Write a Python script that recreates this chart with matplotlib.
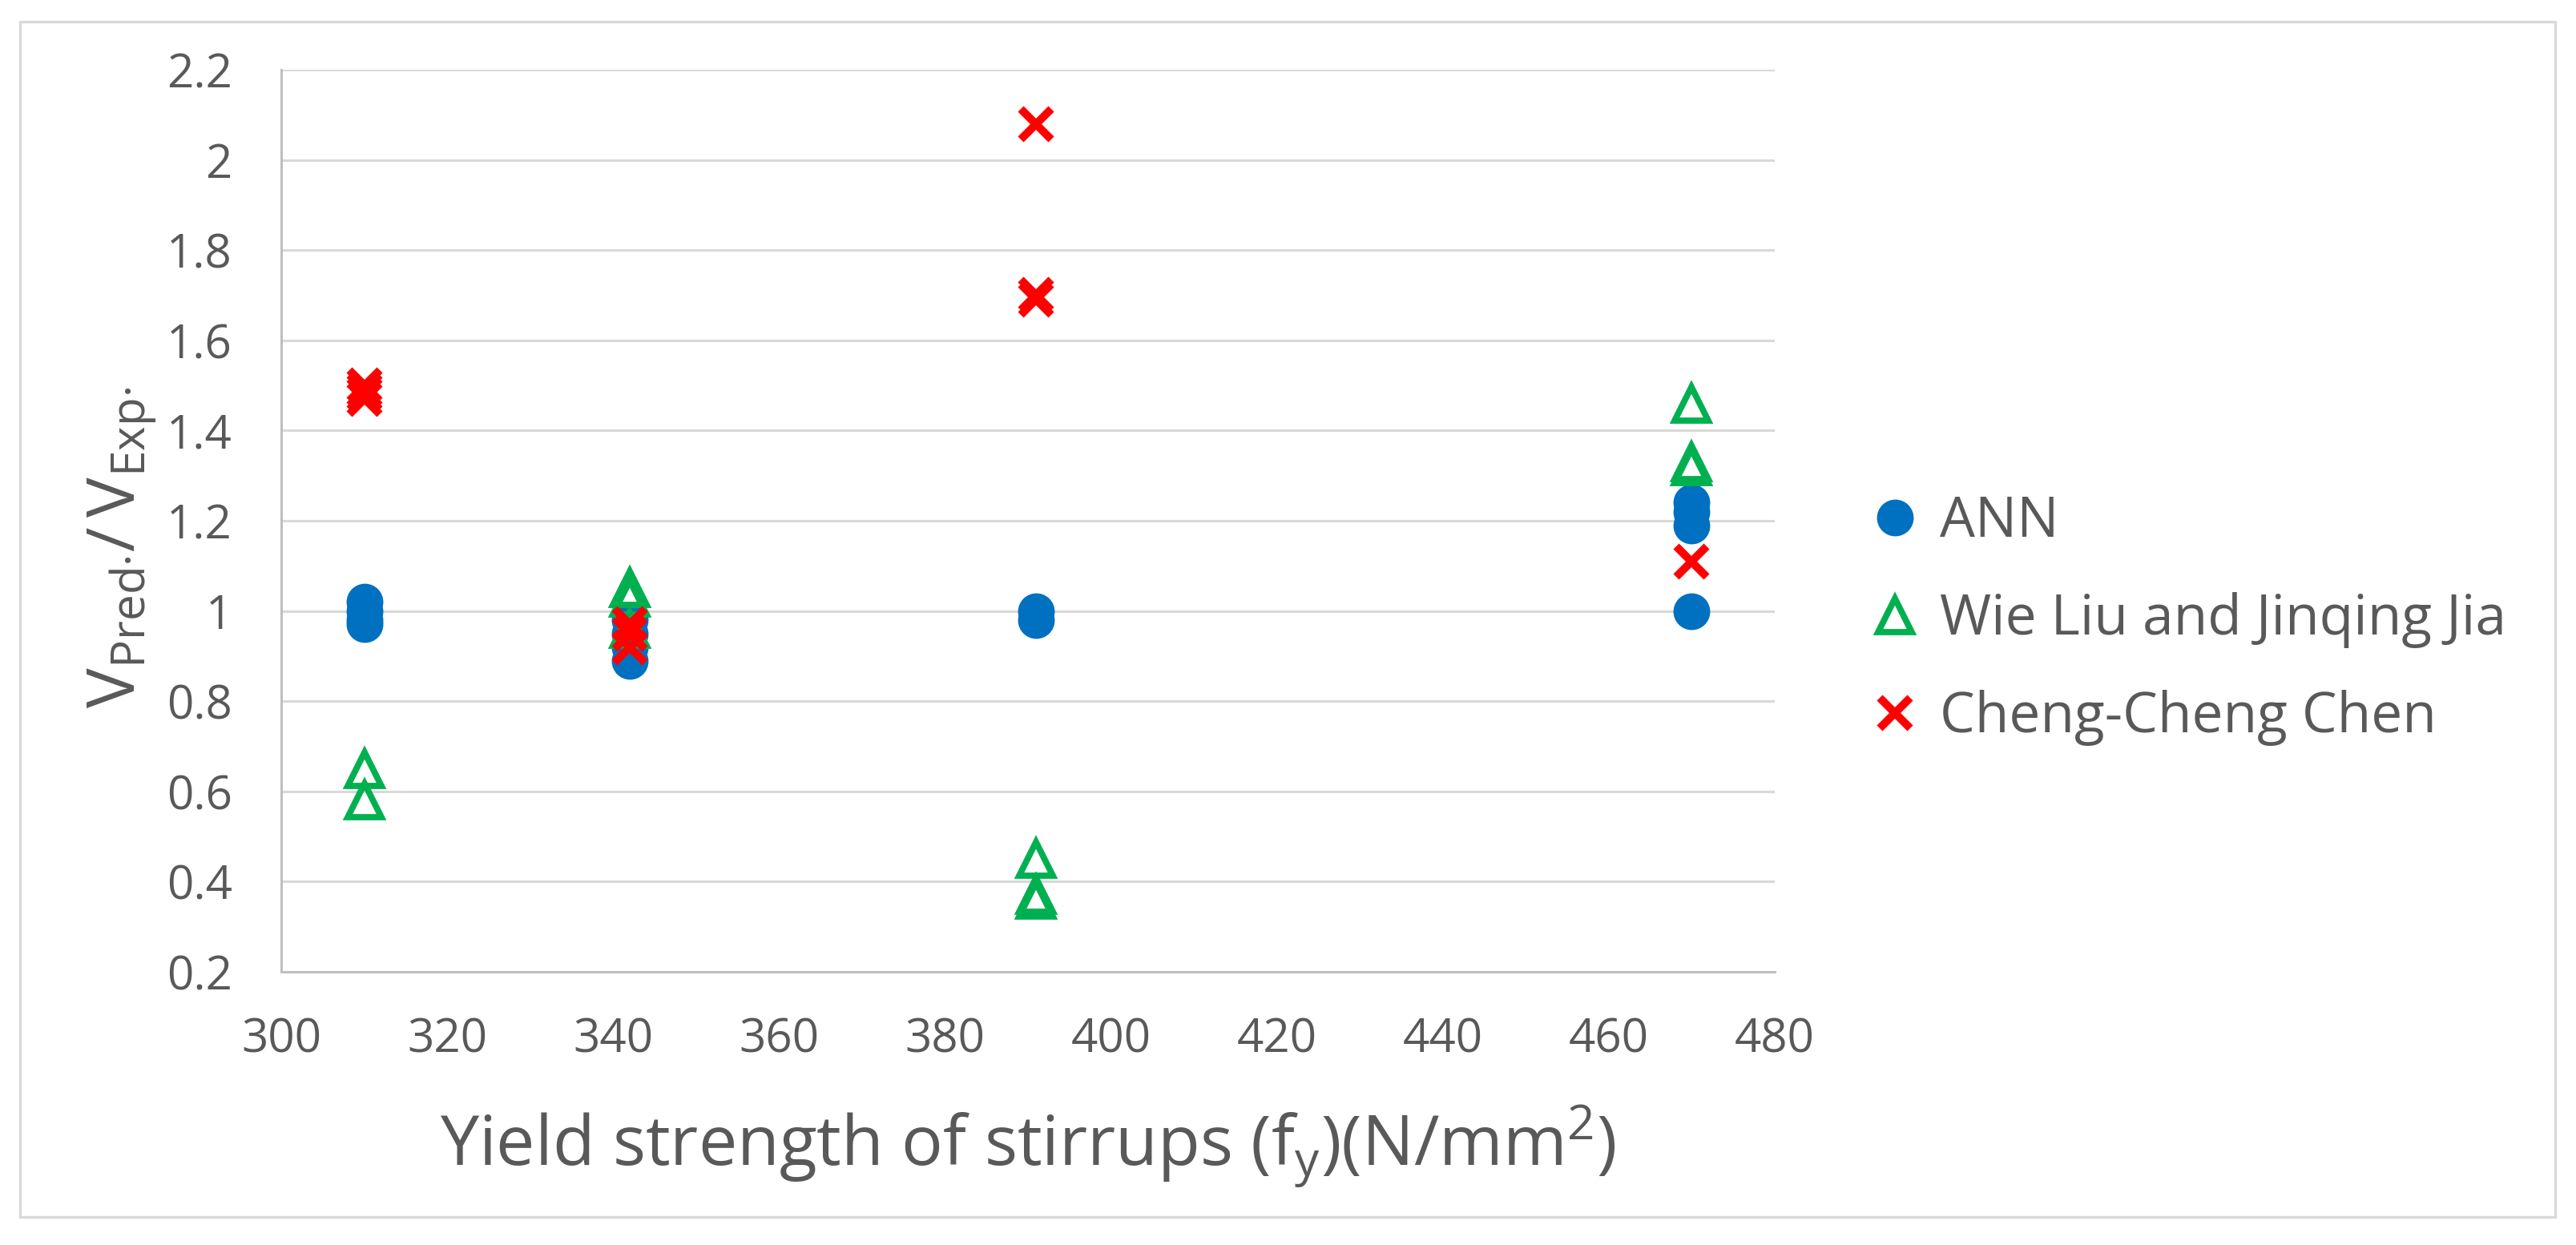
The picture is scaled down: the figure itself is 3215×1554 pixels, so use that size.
import matplotlib
matplotlib.use("Agg")
import matplotlib.pyplot as plt
from matplotlib.patches import Rectangle
from matplotlib.ticker import FuncFormatter

# data
ann_x = [310, 310, 310, 310, 342, 342, 342, 342, 391, 391, 470, 470, 470, 470]
ann_y = [1.02, 1.00, 0.98, 0.97, 0.98, 0.95, 0.92, 0.89, 1.00, 0.98, 1.24, 1.22, 1.19, 1.00]

wie_x = [310, 310, 342, 342, 342, 391, 391, 391, 470, 470, 470]
wie_y = [0.65, 0.58, 1.05, 1.03, 0.96, 0.45, 0.37, 0.36, 1.46, 1.33, 1.32]

chen_x = [310, 310, 310, 310, 342, 342, 342, 391, 391, 391, 470]
chen_y = [1.50, 1.49, 1.48, 1.47, 0.97, 0.95, 0.92, 2.08, 1.70, 1.69, 1.11]

labels = ["ANN", "Wie Liu and Jinqing Jia", "Cheng-Cheng Chen"]
x_ticks = list(range(300, 481, 20))
y_ticks = [0.2, 0.4, 0.6, 0.8, 1.0, 1.2, 1.4, 1.6, 1.8, 2.0, 2.2]

text_color = "#595959"
plt.rcParams["font.family"] = ["Open Sans", "DejaVu Sans"]
plt.rcParams["mathtext.fontset"] = "custom"
plt.rcParams["mathtext.rm"] = "Open Sans"
plt.rcParams["mathtext.it"] = "Open Sans"

W, H = 3216, 1554
fig = plt.figure(figsize=(W / 200, H / 200), dpi=200)
ax = fig.add_axes([351 / W, 1 - 1213 / H, (2215 - 351) / W, (1213 - 87) / H])

ax.plot(ann_x, ann_y, "o", color="#0070C0", markersize=15.5, label=labels[0], zorder=3)
ax.plot(wie_x, wie_y, "^", color="#00B050", markerfacecolor="none", markersize=15,
        markeredgewidth=2.8, label=labels[1], zorder=4)
ax.plot(chen_x, chen_y, "x", color="#FF0000", markersize=13.5, markeredgewidth=3.6,
        label=labels[2], zorder=5)

ax.set_xlim(300, 480)
ax.set_ylim(0.2, 2.2)
ax.set_xticks(x_ticks)
ax.set_yticks(y_ticks)
ax.yaxis.set_major_formatter(FuncFormatter(lambda v, p: "%g" % round(v, 2)))
ax.grid(axis="y", color="#D9D9D9", linewidth=1.1)
ax.set_axisbelow(True)
for s in ["top", "right"]:
    ax.spines[s].set_visible(False)
for s in ["left", "bottom"]:
    ax.spines[s].set_color("#BFBFBF")
    ax.spines[s].set_linewidth(1.1)
ax.tick_params(length=0, labelsize=21, colors=text_color)
ax.tick_params(axis="y", pad=22)
ax.tick_params(axis="x", pad=20)

ax.set_xlabel(r"Yield strength of stirrups (f$_\mathregular{y}$)(N/mm$^\mathregular{2}$)",
              fontsize=31, color=text_color, labelpad=18)
ax.set_ylabel(r"$\mathregular{V_{Pred·}/\,V_{Exp·}}$", fontsize=30, color=text_color)
ax.yaxis.set_label_coords(-0.082, 0.47)

leg = ax.legend(loc="center left", bbox_to_anchor=(2282 / W, 1 - 774 / H),
                bbox_transform=fig.transFigure, frameon=False, fontsize=25,
                labelcolor=text_color, handlelength=0.6, handletextpad=0.5,
                labelspacing=0.75)

# light outer frame around the whole chart
fig.patches.append(Rectangle((25 / W, 1 - 1519 / H), (3189 - 25) / W, (1519 - 27) / H,
                             transform=fig.transFigure, fill=False,
                             edgecolor="#D9D9D9", linewidth=1.2))

fig.savefig("out.png", dpi=200, facecolor="white")
